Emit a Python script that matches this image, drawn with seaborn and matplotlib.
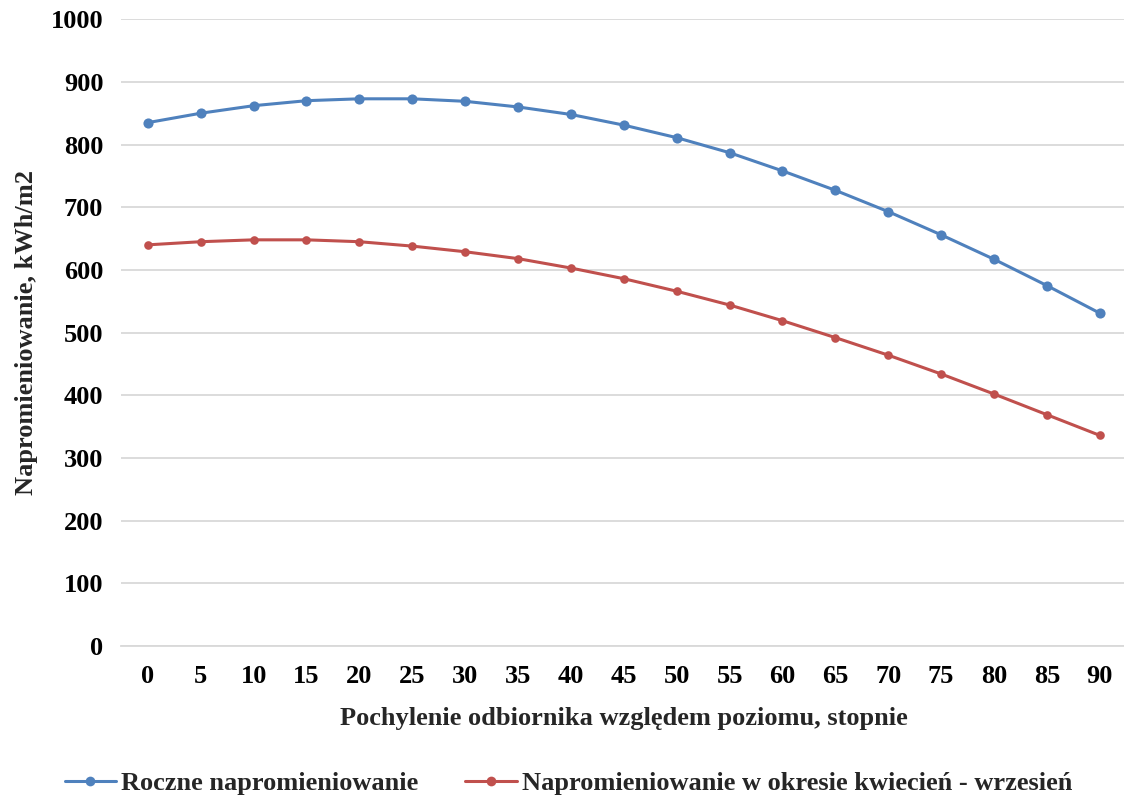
import matplotlib
matplotlib.use("Agg")
import matplotlib.pyplot as plt
import seaborn as sns
import pandas as pd

angles = [0, 5, 10, 15, 20, 25, 30, 35, 40, 45, 50, 55, 60, 65, 70, 75, 80, 85, 90]
roczne = [835, 850, 862, 870, 873, 873, 869, 860, 848, 831, 811, 787, 758, 727, 693, 656, 617, 575, 531]
kw_wrz = [640, 645, 648, 648, 645, 638, 629, 618, 603, 586, 566, 544, 519, 492, 464, 434, 402, 369, 336]
series_names = ["Roczne napromieniowanie", "Napromieniowanie w okresie kwiecień - wrzesień"]
colors = ["#4F81BD", "#C0504D"]
yticks = [0, 100, 200, 300, 400, 500, 600, 700, 800, 900, 1000]

df = pd.concat([
    pd.DataFrame({"angle": angles, "value": roczne, "series": series_names[0]}),
    pd.DataFrame({"angle": angles, "value": kw_wrz, "series": series_names[1]}),
])

sns.set_theme(style="white")
plt.rcParams["font.family"] = ["Liberation Serif", "DejaVu Serif"]
plt.rcParams["font.weight"] = "bold"

fs = 19
fig = plt.figure(figsize=(11.24, 8), dpi=100)
ax = fig.add_axes([0.108, 0.1925, 0.894, 0.7835])

sns.lineplot(data=df, x="angle", y="value", hue="series", palette=colors,
             marker="o", markersize=7, markeredgewidth=0, linewidth=2.2,
             ax=ax, legend=True)
# red series has slightly smaller markers in the reference
if len(ax.lines) >= 2:
    ax.lines[0].set_markersize(7.3)
    ax.lines[1].set_markersize(6.2)

ax.set_xlim(-2.5, 92.5)
ax.set_ylim(0, 1000)
ax.set_xticks(angles)
ax.set_xticklabels([str(a) for a in angles], fontsize=fs, fontweight="bold")
ax.set_yticks(yticks)
ax.set_yticklabels([str(v) for v in yticks], fontsize=fs, fontweight="bold")
ax.yaxis.grid(True, color="#d9d9d9", linewidth=1.3)
ax.xaxis.grid(False)
for s in ["top", "right", "left"]:
    ax.spines[s].set_visible(False)
ax.spines["bottom"].set_color("#d9d9d9")
ax.spines["bottom"].set_linewidth(1.3)
ax.tick_params(axis="x", length=0, pad=14, colors="black")
ax.tick_params(axis="y", length=0, pad=13, colors="black")
ax.set_xlabel("Pochylenie odbiornika względem poziomu, stopnie", fontsize=fs,
              fontweight="bold", labelpad=13)
ax.set_ylabel("Napromieniowanie, kWh/m2", fontsize=fs, fontweight="bold")
ax.yaxis.set_label_coords(-0.083, 0.5)

handles, labels = ax.get_legend_handles_labels()
ax.legend(handles, labels, loc="center", bbox_to_anchor=(0.5056, 1 - 783 / 800),
          bbox_transform=fig.transFigure, ncol=2, frameon=False,
          prop={"size": fs, "weight": "bold"}, handlelength=1.95, handletextpad=0.18,
          columnspacing=1.8, borderpad=0.2)

fig.savefig("out.png", dpi=100)
